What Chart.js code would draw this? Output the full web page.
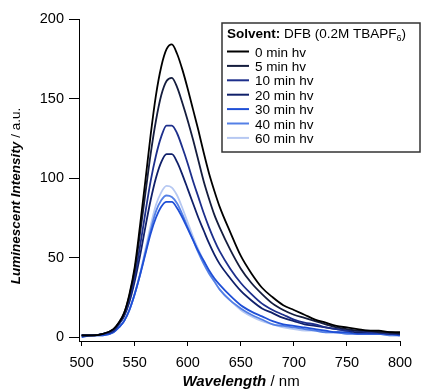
<!DOCTYPE html>
<html>
<head>
<meta charset="utf-8">
<script src="https://cdn.jsdelivr.net/npm/chart.js@4.4.1/dist/chart.umd.min.js"></script>
<style>
  body { margin: 0; background: #fff; }
  canvas { display: block; }
</style>
</head>
<body>
<canvas id="spectra" width="422" height="389"></canvas>
<script>
// ---- data ----
const wavelengths = [500, 510, 520, 530, 535, 540, 545, 550, 555, 560, 565, 570, 575, 580, 585, 590, 595, 600, 605, 610, 615, 620, 625, 630, 640, 650, 660, 670, 680, 690, 700, 710, 720, 730, 740, 750, 760, 770, 780, 790, 800];

const min0  = [1, 1, 2, 5, 9, 15, 27, 44, 70, 98, 127, 152, 170, 181, 184, 178, 168, 156, 143, 130, 116, 103, 92, 82, 66, 51, 40, 31, 25, 20, 17, 14, 11, 9, 7, 6, 5, 4, 4, 3, 3];
const min5  = [1, 1, 2, 5, 9, 15, 26, 42, 65, 90, 115, 136, 152, 161, 163, 157, 147, 136, 124, 111, 98, 87, 77, 69, 55, 43, 34, 27, 21, 17, 14, 12, 10, 8, 6, 5, 4, 4, 3, 3, 2];
const min10 = [1, 1, 2, 4, 8, 14, 24, 38, 57, 78, 98, 114, 126, 133, 133, 128, 119, 109, 98, 88, 78, 69, 61, 54, 43, 34, 27, 21, 17, 14, 11, 9, 8, 6, 5, 4, 4, 3, 3, 2, 2];
const min20 = [1, 1, 2, 4, 8, 13, 22, 35, 51, 69, 86, 100, 110, 115, 115, 110, 102, 93, 84, 75, 67, 59, 52, 46, 37, 29, 23, 18, 15, 12, 10, 8, 7, 6, 5, 4, 3, 3, 3, 2, 2];
const min30 = [0, 1, 1, 3, 6, 10, 17, 27, 39, 52, 65, 75, 82, 85, 85, 81, 75, 68, 61, 54, 48, 42, 37, 33, 26, 20, 16, 13, 10, 8, 7, 6, 5, 4, 3, 3, 2, 2, 2, 2, 1];
const min40 = [1, 1, 1, 3, 6, 10, 17, 27, 39, 53, 67, 79, 86, 89, 88, 84, 77, 69, 61, 53, 46, 40, 35, 30, 23, 18, 14, 11, 8, 7, 6, 5, 4, 3, 3, 2, 2, 2, 2, 1, 1];
const min60 = [1, 1, 2, 3, 6, 10, 17, 27, 40, 55, 70, 83, 91, 95, 94, 89, 81, 72, 63, 55, 48, 41, 35, 30, 23, 17, 13, 10, 8, 6, 5, 4, 4, 3, 3, 2, 2, 2, 2, 1, 1];

const seriesLabels = ["0 min hv", "5 min hv", "10 min hv", "20 min hv", "30 min hv", "40 min hv", "60 min hv"];
const seriesValues = [min0, min5, min10, min20, min30, min40, min60];
const seriesColors = ["#000000", "#151d3e", "#1d2f8c", "#10206a", "#1f4fd6", "#5480e6", "#b6c8f2"];

const xTicks = [500, 550, 600, 650, 700, 750, 800];
const yTicks = [0, 50, 100, 150, 200];

const FONT = "'Liberation Sans', Arial, Helvetica, sans-serif";

// ---- axis titles + legend box (mixed styles, so drawn by hand) ----
function drawPieces(ctx, pieces, x, y, align) {
    let total = 0;
    pieces.forEach(p => { ctx.font = p.font; total += ctx.measureText(p.text).width; });
    let cx = align === "center" ? x - total / 2 : x;
    pieces.forEach(p => {
        ctx.font = p.font;
        ctx.fillText(p.text, cx, y + (p.dy || 0));
        cx += ctx.measureText(p.text).width;
    });
}

const decorations = {
    id: "decorations",
    afterDraw(chart) {
        const ctx = chart.ctx;
        ctx.save();
        ctx.fillStyle = "#000";
        ctx.textBaseline = "alphabetic";

        // x title
        drawPieces(ctx, [
            { text: "Wavelength", font: "italic bold 15px " + FONT },
            { text: " / nm", font: "15px " + FONT },
        ], 241, 386, "center");

        // y title
        ctx.save();
        ctx.translate(20, 196);
        ctx.rotate(-Math.PI / 2);
        drawPieces(ctx, [
            { text: "Luminescent Intensity", font: "italic bold 13.5px " + FONT },
            { text: " / a.u.", font: "13.5px " + FONT },
        ], 0, 0, "center");
        ctx.restore();

        // legend
        ctx.fillStyle = "#fff";
        ctx.fillRect(222, 23, 198, 129);
        ctx.strokeStyle = "#333";
        ctx.lineWidth = 1.5;
        ctx.strokeRect(222, 23, 198, 129);
        ctx.fillStyle = "#000";
        drawPieces(ctx, [
            { text: "Solvent:", font: "bold 13.5px " + FONT },
            { text: " DFB (0.2M TBAPF", font: "13.5px " + FONT },
            { text: "6", font: "9px " + FONT, dy: 3 },
            { text: ")", font: "13.5px " + FONT },
        ], 227, 38, "left");

        chart.data.datasets.forEach((ds, i) => {
            const y = 51.5 + i * 14.4;
            ctx.strokeStyle = ds.borderColor;
            ctx.lineWidth = 2;
            ctx.beginPath();
            ctx.moveTo(227, y);
            ctx.lineTo(249, y);
            ctx.stroke();
            ctx.font = "13.5px " + FONT;
            ctx.fillStyle = "#000";
            ctx.fillText(ds.label, 255, y + 5);
        });
        ctx.restore();
    },
};

const datasets = seriesLabels.map((label, i) => ({
    label,
    data: wavelengths.map((w, j) => ({ x: w, y: seriesValues[i][j] })),
    borderColor: seriesColors[i],
    borderWidth: 1.8,
    pointRadius: 0,
    cubicInterpolationMode: "monotone",
    fill: false,
}));

new Chart(document.getElementById("spectra"), {
    type: "line",
    data: { datasets },
    plugins: [decorations],
    options: {
        responsive: false,
        animation: false,
        layout: { padding: { left: 0, top: 19, right: 22, bottom: 0 } },
        plugins: { legend: { display: false }, tooltip: { enabled: false } },
        scales: {
            x: {
                type: "linear",
                min: 497.5,
                max: 800,
                afterBuildTicks: s => { s.ticks = xTicks.map(v => ({ value: v })); },
                afterFit: s => { s.height = 48; },
                grid: { drawOnChartArea: false, drawTicks: true, tickLength: 5, color: "#000" },
                border: { color: "#000", width: 1 },
                ticks: { color: "#000", padding: 8, maxRotation: 0, font: { family: FONT, size: 14.5 } },
            },
            y: {
                min: -2.5,
                max: 200,
                afterBuildTicks: s => { s.ticks = yTicks.map(v => ({ value: v })); },
                afterFit: s => { s.width = 79; },
                grid: { drawOnChartArea: false, drawTicks: true, tickLength: 10, color: "#000" },
                border: { color: "#000", width: 1 },
                ticks: { color: "#000", padding: 5, font: { family: FONT, size: 14.5 } },
            },
        },
    },
});
</script>
</body>
</html>
